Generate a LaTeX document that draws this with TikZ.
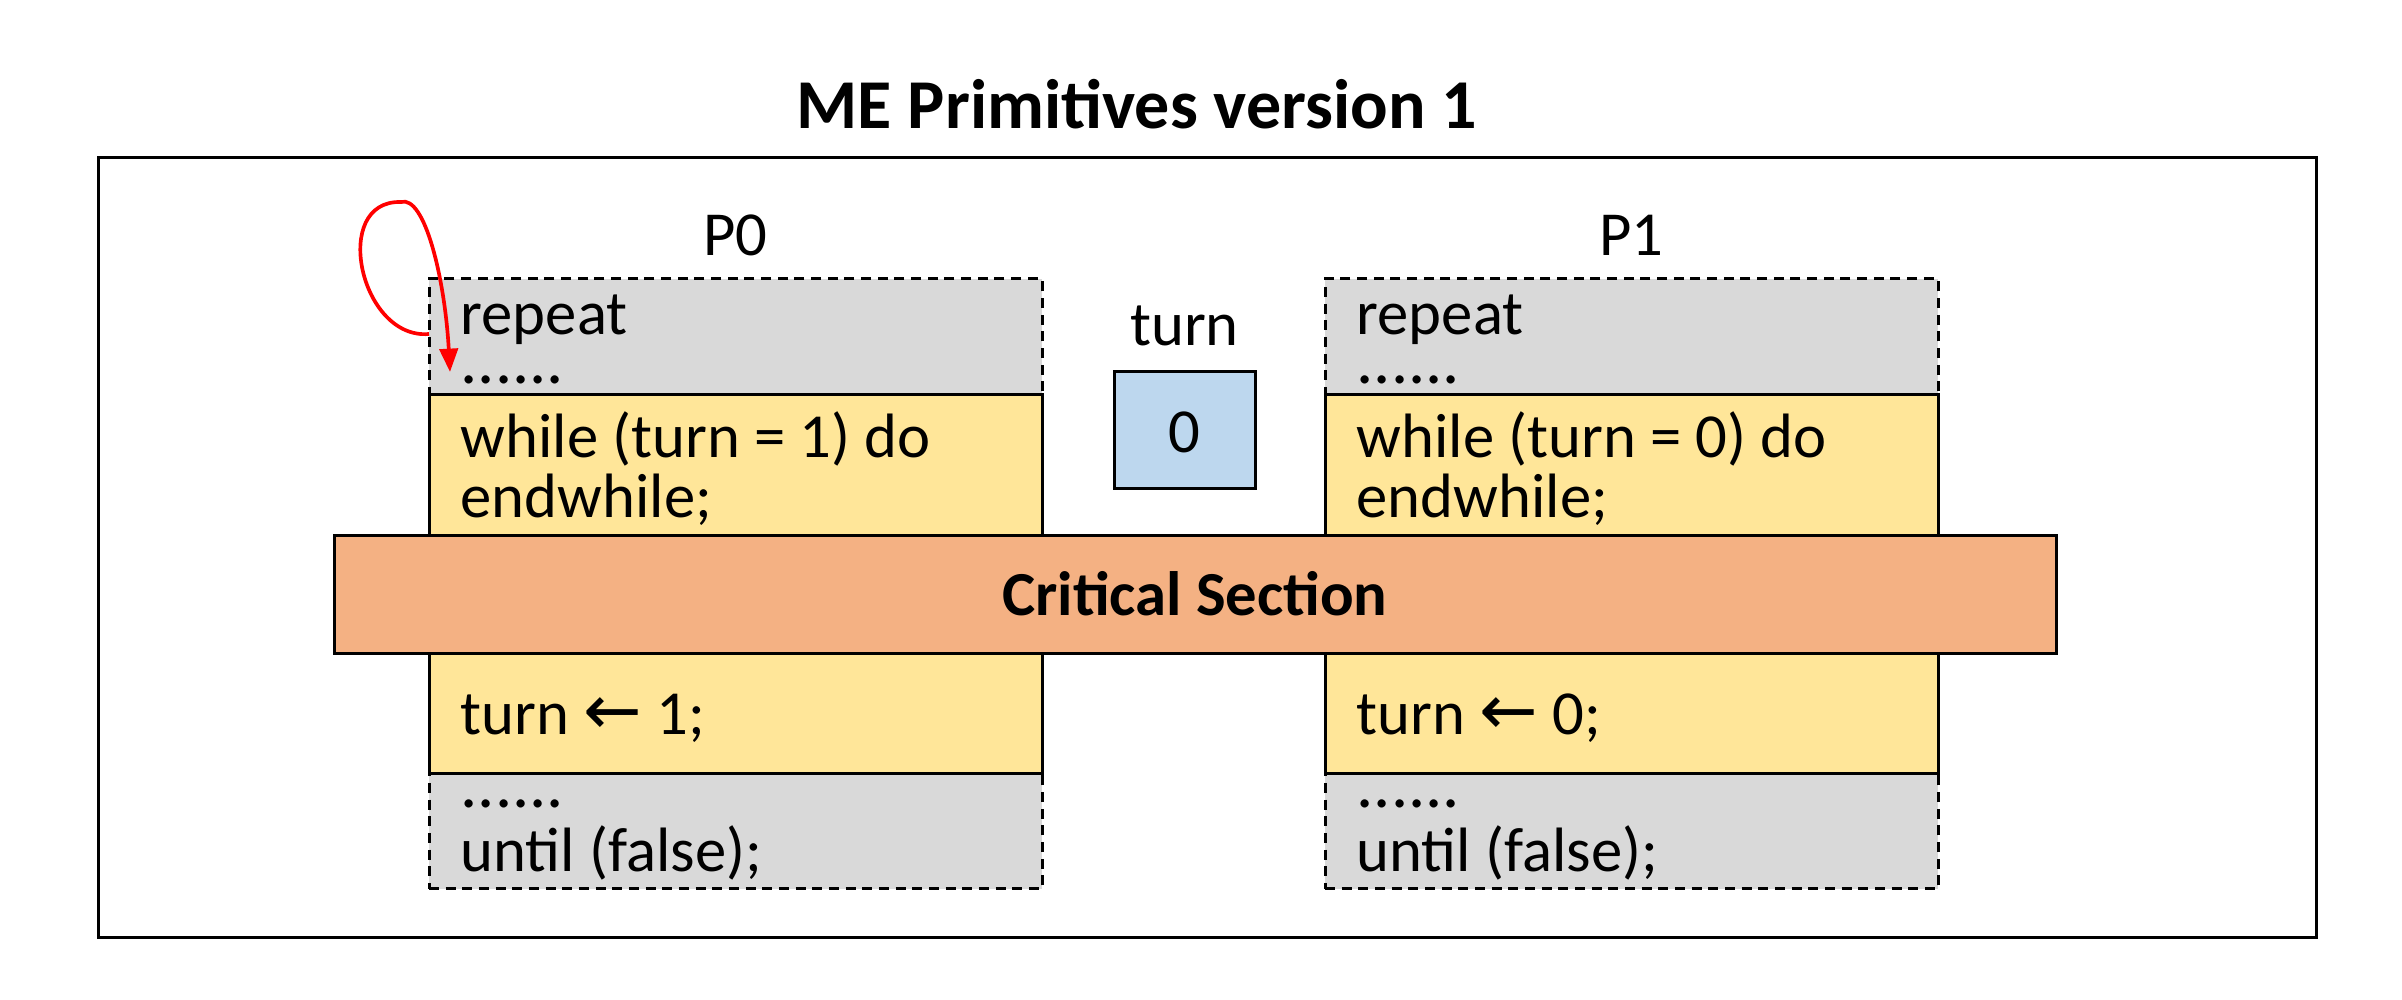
\documentclass[tikz,border=0pt]{standalone}
\usepackage{fontspec}
\setmainfont{Carlito}
\newfontfamily\arrowfont{DejaVu Sans}
\usetikzlibrary{arrows.meta}
\definecolor{cgray}{HTML}{D9D9D9}
\definecolor{cyellow}{HTML}{FFE699}
\definecolor{corange}{HTML}{F4B183}
\definecolor{cblue}{HTML}{BDD7EE}
\newcommand{\dotrow}{{\fontsize{20.5}{22}\selectfont ......}}
\begin{document}
\begin{tikzpicture}[x=0.3pt,y=-0.3pt,
  box/.style={draw=black, line width=0.9pt, inner sep=0pt, outer sep=0pt},
  graybox/.style={box, fill=cgray, dash pattern=on 3pt off 2pt},
  yellowbox/.style={box, fill=cyellow},
  colw/.style={minimum width=183.9pt},
  txt/.style={font=\fontsize{18.8}{22}\selectfont, anchor=base west, inner sep=0pt},
  ctxt/.style={font=\fontsize{18.8}{22}\selectfont, anchor=base, inner sep=0pt},
  loop/.style={draw=red, line width=1.1pt, -{Triangle[length=7pt,width=5.5pt]}}
]
\useasboundingbox (0,0) rectangle (2402,1000);
% title
\node[font=\fontsize{21}{25}\bfseries, anchor=base, inner sep=0pt] (title) at (1137,129) {ME Primitives version 1};
% outer frame
\node[box, minimum width=665.4pt, minimum height=234pt] (frame) at (1207,548) {};
% column labels
\node[ctxt] (p0) at (735.5,256) {P0};
\node[ctxt] (p1) at (1631.5,256) {P1};
% left column
\node[graybox, colw, minimum height=34.8pt] (g0t) at (735.5,337) {};
\node[graybox, colw, minimum height=34.5pt] (g0b) at (735.5,831.5) {};
\node[yellowbox, colw, minimum height=42.3pt] (y0t) at (735.5,465.5) {};
\node[yellowbox, colw, minimum height=36pt] (y0b) at (735.5,714) {};
% right column
\node[graybox, colw, minimum height=34.8pt] (g1t) at (1631.5,337) {};
\node[graybox, colw, minimum height=34.5pt] (g1b) at (1631.5,831.5) {};
\node[yellowbox, colw, minimum height=42.3pt] (y1t) at (1631.5,465.5) {};
\node[yellowbox, colw, minimum height=36pt] (y1b) at (1631.5,714) {};
% critical section
\node[box, fill=corange, minimum width=516.6pt, minimum height=35.4pt] (cs) at (1195,595) {};
\node[ctxt, font=\fontsize{18.8}{22}\bfseries] (cstext) at (1195,616) {Critical Section};
% turn variable
\node[ctxt] (turnlbl) at (1184.5,346) {turn};
\node[box, fill=cblue, minimum width=42.3pt, minimum height=35.1pt] (turnbox) at (1184.5,430.5) {};
\node[ctxt] (turnval) at (1184.5,453) {0};
% left texts
\node[txt] (l1) at (460,335) {repeat};
\node[txt] (l2) at (460,384) {\dotrow};
\node[txt] (l3) at (460,458) {while (turn = 1) do};
\node[txt] (l4) at (460,518) {endwhile;};
\node[txt] (l5) at (460,735) {turn {\arrowfont\fontsize{21}{22}\selectfont ←} 1;};
\node[txt] (l6) at (460,808) {\dotrow};
\node[txt] (l7) at (460,872) {until (false);};
% right texts
\node[txt] (r1) at (1356,335) {repeat};
\node[txt] (r2) at (1356,384) {\dotrow};
\node[txt] (r3) at (1356,458) {while (turn = 0) do};
\node[txt] (r4) at (1356,518) {endwhile;};
\node[txt] (r5) at (1356,735) {turn {\arrowfont\fontsize{21}{22}\selectfont ←} 0;};
\node[txt] (r6) at (1356,808) {\dotrow};
\node[txt] (r7) at (1356,872) {until (false);};
% red loop arrow
\coordinate (loopstart) at (g0t.west |- 0,334);
\coordinate (looptop) at (401,202);
\coordinate (looptip) at (450,372);
\draw[loop] (loopstart) .. controls (360,340) and (330,200) .. (looptop)
  .. controls (425,195) and (445,280) .. (looptip);
\end{tikzpicture}
\end{document}
